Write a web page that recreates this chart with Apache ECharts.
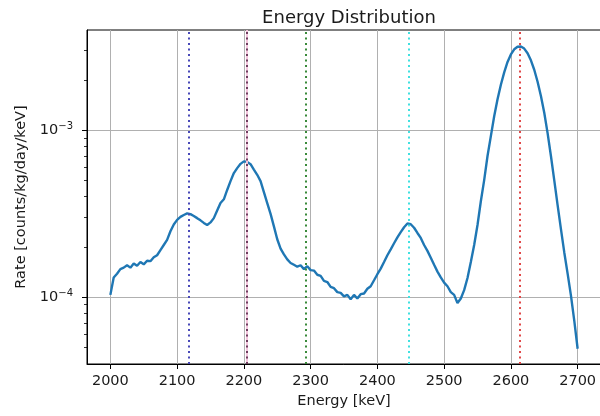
<!DOCTYPE html>
<html>
<head>
<meta charset="utf-8">
<script src="https://cdn.jsdelivr.net/npm/echarts@6/dist/echarts.min.js"></script>
<style>
  html, body { margin: 0; padding: 0; background: #fff; }
  #chart { width: 600px; height: 416px; }
</style>
</head>
<body>
<div id="chart"></div>
<script>
// spectrum, 5 keV bins starting at 2000 keV
const energyStart = 2000
const energyStep = 5
// rate in units of 1e-4 counts/kg/day/keV
const rateE4 = [
  1.03, 1.31, 1.38, 1.47, 1.50, 1.55, 1.50, 1.59, 1.54, 1.62,
  1.57, 1.65, 1.64, 1.73, 1.78, 1.91, 2.05, 2.20, 2.48, 2.72,
  2.90, 3.02, 3.10, 3.17, 3.14, 3.06, 2.97, 2.88, 2.78, 2.70,
  2.80, 2.97, 3.30, 3.66, 3.85, 4.38, 4.95, 5.53, 5.92, 6.28,
  6.50, 6.45, 6.25, 5.80, 5.40, 4.95, 4.25, 3.65, 3.15, 2.65,
  2.22, 1.95, 1.80, 1.68, 1.60, 1.56, 1.52, 1.55, 1.47, 1.53,
  1.45, 1.44, 1.36, 1.34, 1.25, 1.23, 1.15, 1.13, 1.07, 1.06,
  1.01, 1.03, 0.97, 1.03, 0.98, 1.04, 1.05, 1.12, 1.16, 1.26,
  1.37, 1.48, 1.62, 1.78, 1.93, 2.10, 2.28, 2.45, 2.62, 2.76,
  2.73, 2.60, 2.42, 2.26, 2.05, 1.89, 1.72, 1.56, 1.42, 1.31,
  1.22, 1.16, 1.07, 1.03, 0.92, 0.98, 1.10, 1.30, 1.62, 2.05,
  2.70, 3.75, 5.02, 7.00, 9.20, 12.1, 15.3, 18.7, 22.2, 25.6,
  28.4, 30.5, 31.6, 31.7, 30.8, 28.9, 26.2, 23.0, 19.5, 16.0,
  12.7, 9.6, 7.0, 5.0, 3.55, 2.55, 1.85, 1.38, 1.02, 0.72,
  0.49
]
// gamma lines marked with dotted verticals
const lineEnergies = [2118, 2204, 2293, 2447, 2613]
const lineColors = ['#4848b8', '#6e3d5e', '#3a8a3a', '#3fe0e0', '#e04848']
const xTicks = [2000, 2100, 2200, 2300, 2400, 2500, 2600, 2700]
const yMajorTicks = [1e-4, 1e-3]
const yMinorTicks = [5e-5, 6e-5, 7e-5, 8e-5, 9e-5,
  2e-4, 3e-4, 4e-4, 5e-4, 6e-4, 7e-4, 8e-4, 9e-4, 2e-3, 3e-3]

const font = 'DejaVu Sans'
const txt = '#1a1a1a'

let chart = echarts.init(document.getElementById('chart'))

let spectrum = rateE4.map((v, i) => [energyStart + i * energyStep, v * 1e-4])

let markData = lineEnergies.map((e, i) => ({
  xAxis: e,
  lineStyle: { color: lineColors[i], type: [2, 3.5], width: 2 }
}))
// the 2204 line sits on a faint pink band
markData.unshift({ xAxis: 2204, lineStyle: { color: '#f3c4dc', type: 'solid', width: 2 } })

let option = {
  animation: false,
  title: {
    text: 'Energy Distribution',
    left: 344,
    textAlign: 'center',
    top: 4,
    textStyle: { fontFamily: font, fontSize: 18, fontWeight: 'normal', color: txt }
  },
  grid: {
    left: 87, top: 30, width: 514, height: 334,
    outerBoundsMode: 'none',
    containLabel: false,
    show: true, borderColor: '#000', borderWidth: 1, backgroundColor: 'transparent'
  },
  xAxis: {
    type: 'value',
    min: 1965,
    max: 2735,
    axisLine: { show: true, lineStyle: { color: '#000', width: 1 } },
    axisTick: { show: true, length: 5, customValues: xTicks, lineStyle: { color: '#000', width: 1 } },
    axisLabel: {
      customValues: xTicks, fontFamily: font, fontSize: 14.5, color: txt, margin: 10,
      formatter: v => String(v)
    },
    splitLine: { show: true, lineStyle: { color: '#b0b0b0', width: 1 } },
    name: 'Energy [keV]',
    nameLocation: 'middle',
    nameGap: 30,
    nameTextStyle: { fontFamily: font, fontSize: 14.5, color: txt }
  },
  yAxis: [
    {
      type: 'log',
      logBase: 10,
      min: 3.97e-5,
      max: 3.98e-3,
      axisLine: { show: true, lineStyle: { color: '#000', width: 1 } },
      axisTick: { show: true, length: 5, customValues: yMajorTicks, lineStyle: { color: '#000', width: 1 } },
      axisLabel: {
        customValues: yMajorTicks,
        fontFamily: font,
        fontSize: 14.5,
        color: txt,
        margin: 14,
        formatter: function (v) {
          let e = Math.round(Math.log10(v))
          return '10{sup|\u2212' + (-e) + '}'
        },
        rich: {
          sup: { fontFamily: font, fontSize: 10, color: txt, padding: [0, 0, 8, 0] }
        }
      },
      splitLine: { show: true, lineStyle: { color: '#b0b0b0', width: 1 } },
      name: 'Rate [counts/kg/day/keV]',
      nameLocation: 'middle',
      nameGap: 54,
      nameTextStyle: { fontFamily: font, fontSize: 14.5, color: txt }
    },
    {
      // minor ticks only
      type: 'log',
      logBase: 10,
      min: 3.97e-5,
      max: 3.98e-3,
      position: 'left',
      axisLine: { show: false },
      axisTick: { show: true, length: 3, customValues: yMinorTicks, lineStyle: { color: '#000', width: 0.8 } },
      axisLabel: { show: false },
      splitLine: { show: false }
    }
  ],
  series: [
    {
      type: 'line',
      data: spectrum,
      showSymbol: false,
      symbol: 'none',
      lineStyle: { color: '#1f77b4', width: 2.4 },
      z: 3,
      markLine: {
        silent: true,
        symbol: 'none',
        label: { show: false },
        data: markData
      }
    }
  ]
}
chart.setOption(option)
</script>
</body>
</html>
